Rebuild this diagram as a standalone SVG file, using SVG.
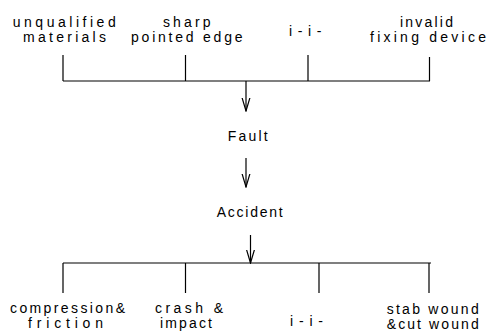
<svg xmlns="http://www.w3.org/2000/svg" width="496" height="331" viewBox="0 0 496 331">
<style>
  text { font-family: "Liberation Sans", Arial, sans-serif; font-size: 14px; fill: #000; }
  .ln { stroke: #000; stroke-width: 1.2; fill: none; }
  .arr { stroke: #000; stroke-width: 1.2; fill: none; marker-end: url(#vhead); }
</style>
<defs>
  <marker id="vhead" viewBox="0 0 14 10" refX="13.5" refY="5" markerWidth="14" markerHeight="10" markerUnits="userSpaceOnUse" orient="auto">
    <path d="M0,1 L13.5,5 L0,9" fill="none" stroke="#000" stroke-width="1.2"/>
  </marker>
</defs>
<rect width="496" height="331" fill="#fff"/>

<g id="connectors">
  <path class="ln" d="M63,81 H430 M63,55 V81 M185.5,55 V81 M308,55 V81 M429.5,57 V81"/>
  <path class="arr" d="M246,81 V111"/>
  <path class="arr" d="M246,158 V187"/>
  <path class="arr" d="M250.5,235 V263"/>
  <path class="ln" d="M63,263 H431 M63,263 V293 M185.5,263 V293 M319,263 V293 M429,263 V293"/>
</g>

<g id="node-unqualified">
  <text x="12.7" y="27" textLength="103" lengthAdjust="spacing">unqualified</text>
  <text x="23" y="42" textLength="83" lengthAdjust="spacing">materials</text>
</g>
<g id="node-sharp">
  <text x="163" y="27" textLength="47.5" lengthAdjust="spacing">sharp</text>
  <text x="131" y="42" textLength="111.5" lengthAdjust="spacing">pointed edge</text>
</g>
<g id="node-etc-top">
  <text x="289" y="36" textLength="32.5" lengthAdjust="spacing">i-i-</text>
</g>
<g id="node-invalid">
  <text x="400" y="27" textLength="53" lengthAdjust="spacing">invalid</text>
  <text x="370" y="42" textLength="116" lengthAdjust="spacing">fixing device</text>
</g>
<g id="node-fault">
  <text x="227.7" y="141" textLength="40" lengthAdjust="spacing">Fault</text>
</g>
<g id="node-accident">
  <text x="216.7" y="217" textLength="66" lengthAdjust="spacing">Accident</text>
</g>
<g id="node-compression">
  <text x="10" y="313" textLength="115" lengthAdjust="spacing">compression&amp;</text>
  <text x="28" y="328" textLength="75" lengthAdjust="spacing">friction</text>
</g>
<g id="node-crash">
  <text x="155" y="313" textLength="68" lengthAdjust="spacing">crash &amp;</text>
  <text x="160" y="328" textLength="52" lengthAdjust="spacing">impact</text>
</g>
<g id="node-etc-bottom">
  <text x="290" y="326" textLength="33" lengthAdjust="spacing">i-i-</text>
</g>
<g id="node-stab">
  <text x="386.7" y="314" textLength="92" lengthAdjust="spacing">stab wound</text>
  <text x="386.7" y="329" textLength="92" lengthAdjust="spacing">&amp;cut wound</text>
</g>
</svg>
